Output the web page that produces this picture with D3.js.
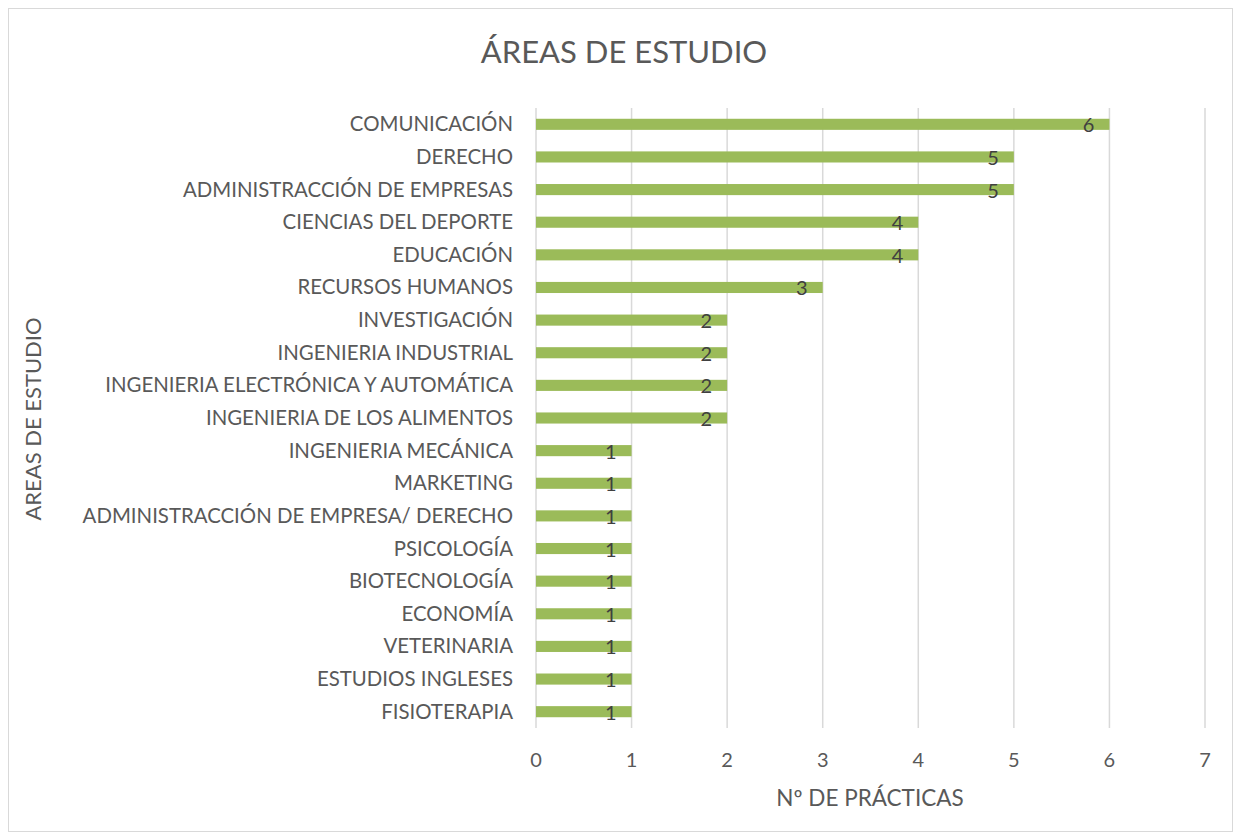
<!DOCTYPE html>
<html>
<head>
<meta charset="utf-8">
<script src="https://cdn.jsdelivr.net/npm/d3@7"></script>
<style>
  body { margin: 0; background: #fff; }
  text { font-family: Lato, "Open Sans", sans-serif; }
</style>
</head>
<body>
<svg id="chart" width="1241" height="839"></svg>
<script>
const areas = [
  'COMUNICACIÓN', 'DERECHO', 'ADMINISTRACCIÓN DE EMPRESAS', 'CIENCIAS DEL DEPORTE',
  'EDUCACIÓN', 'RECURSOS HUMANOS', 'INVESTIGACIÓN', 'INGENIERIA INDUSTRIAL',
  'INGENIERIA ELECTRÓNICA Y AUTOMÁTICA', 'INGENIERIA DE LOS ALIMENTOS', 'INGENIERIA MECÁNICA',
  'MARKETING', 'ADMINISTRACCIÓN DE EMPRESA/ DERECHO', 'PSICOLOGÍA', 'BIOTECNOLOGÍA',
  'ECONOMÍA', 'VETERINARIA', 'ESTUDIOS INGLESES', 'FISIOTERAPIA'
]
const practicas = [6, 5, 5, 4, 4, 3, 2, 2, 2, 2, 1, 1, 1, 1, 1, 1, 1, 1, 1]
const xTicks = [0, 1, 2, 3, 4, 5, 6, 7]

const data = areas.map((a, i) => ({ area: a, count: practicas[i] }))

const svg = d3.select('#chart')
const grey = '#595959'

svg.append('rect')
  .attr('x', 8.5).attr('y', 8.5)
  .attr('width', 1224).attr('height', 823)
  .attr('fill', '#fff')
  .attr('stroke', '#d9d9d9')

const plotL = 536, plotR = 1205, plotT = 108, plotB = 728

const x = d3.scaleLinear().domain([0, 7]).range([plotL, plotR])
const y = d3.scaleBand().domain(areas).range([plotT, plotB]).paddingInner(0.66).paddingOuter(0.33)

// gridlines
svg.append('g')
  .selectAll('line')
  .data(xTicks)
  .join('line')
  .attr('x1', d => x(d)).attr('x2', d => x(d))
  .attr('y1', plotT).attr('y2', plotB)
  .attr('stroke', '#d9d9d9')
  .attr('stroke-width', 1.5)

// bars
svg.append('g')
  .selectAll('rect')
  .data(data)
  .join('rect')
  .attr('x', x(0))
  .attr('y', d => y(d.area))
  .attr('width', d => x(d.count) - x(0))
  .attr('height', y.bandwidth())
  .attr('fill', '#9bbb59')

// data labels
svg.append('g')
  .selectAll('text')
  .data(data)
  .join('text')
  .attr('x', d => x(d.count) - 15)
  .attr('y', d => y(d.area) + y.bandwidth() / 2 + 8)
  .attr('text-anchor', 'end')
  .attr('font-size', 20)
  .attr('fill', '#404040')
  .text(d => d.count)

// y axis labels
svg.append('g')
  .selectAll('text')
  .data(areas)
  .join('text')
  .attr('x', plotL - 23)
  .attr('y', d => y(d) + y.bandwidth() / 2 + 7)
  .attr('text-anchor', 'end')
  .attr('font-size', 20.4)
  .attr('fill', grey)
  .text(d => d)

// x axis tick labels
svg.append('g')
  .selectAll('text')
  .data(xTicks)
  .join('text')
  .attr('x', d => x(d))
  .attr('y', 767)
  .attr('text-anchor', 'middle')
  .attr('font-size', 20)
  .attr('fill', grey)
  .text(d => d)

svg.append('text')
  .attr('x', 870).attr('y', 806)
  .attr('text-anchor', 'middle')
  .attr('font-size', 22.5)
  .attr('fill', grey)
  .text('Nº DE PRÁCTICAS')

svg.append('text')
  .attr('transform', 'translate(41,419) rotate(-90)')
  .attr('text-anchor', 'middle')
  .attr('font-size', 22)
  .attr('fill', grey)
  .text('AREAS DE ESTUDIO')

svg.append('text')
  .attr('x', 624).attr('y', 63)
  .attr('text-anchor', 'middle')
  .attr('font-size', 31)
  .attr('fill', grey)
  .text('ÁREAS DE ESTUDIO')
</script>
</body>
</html>
